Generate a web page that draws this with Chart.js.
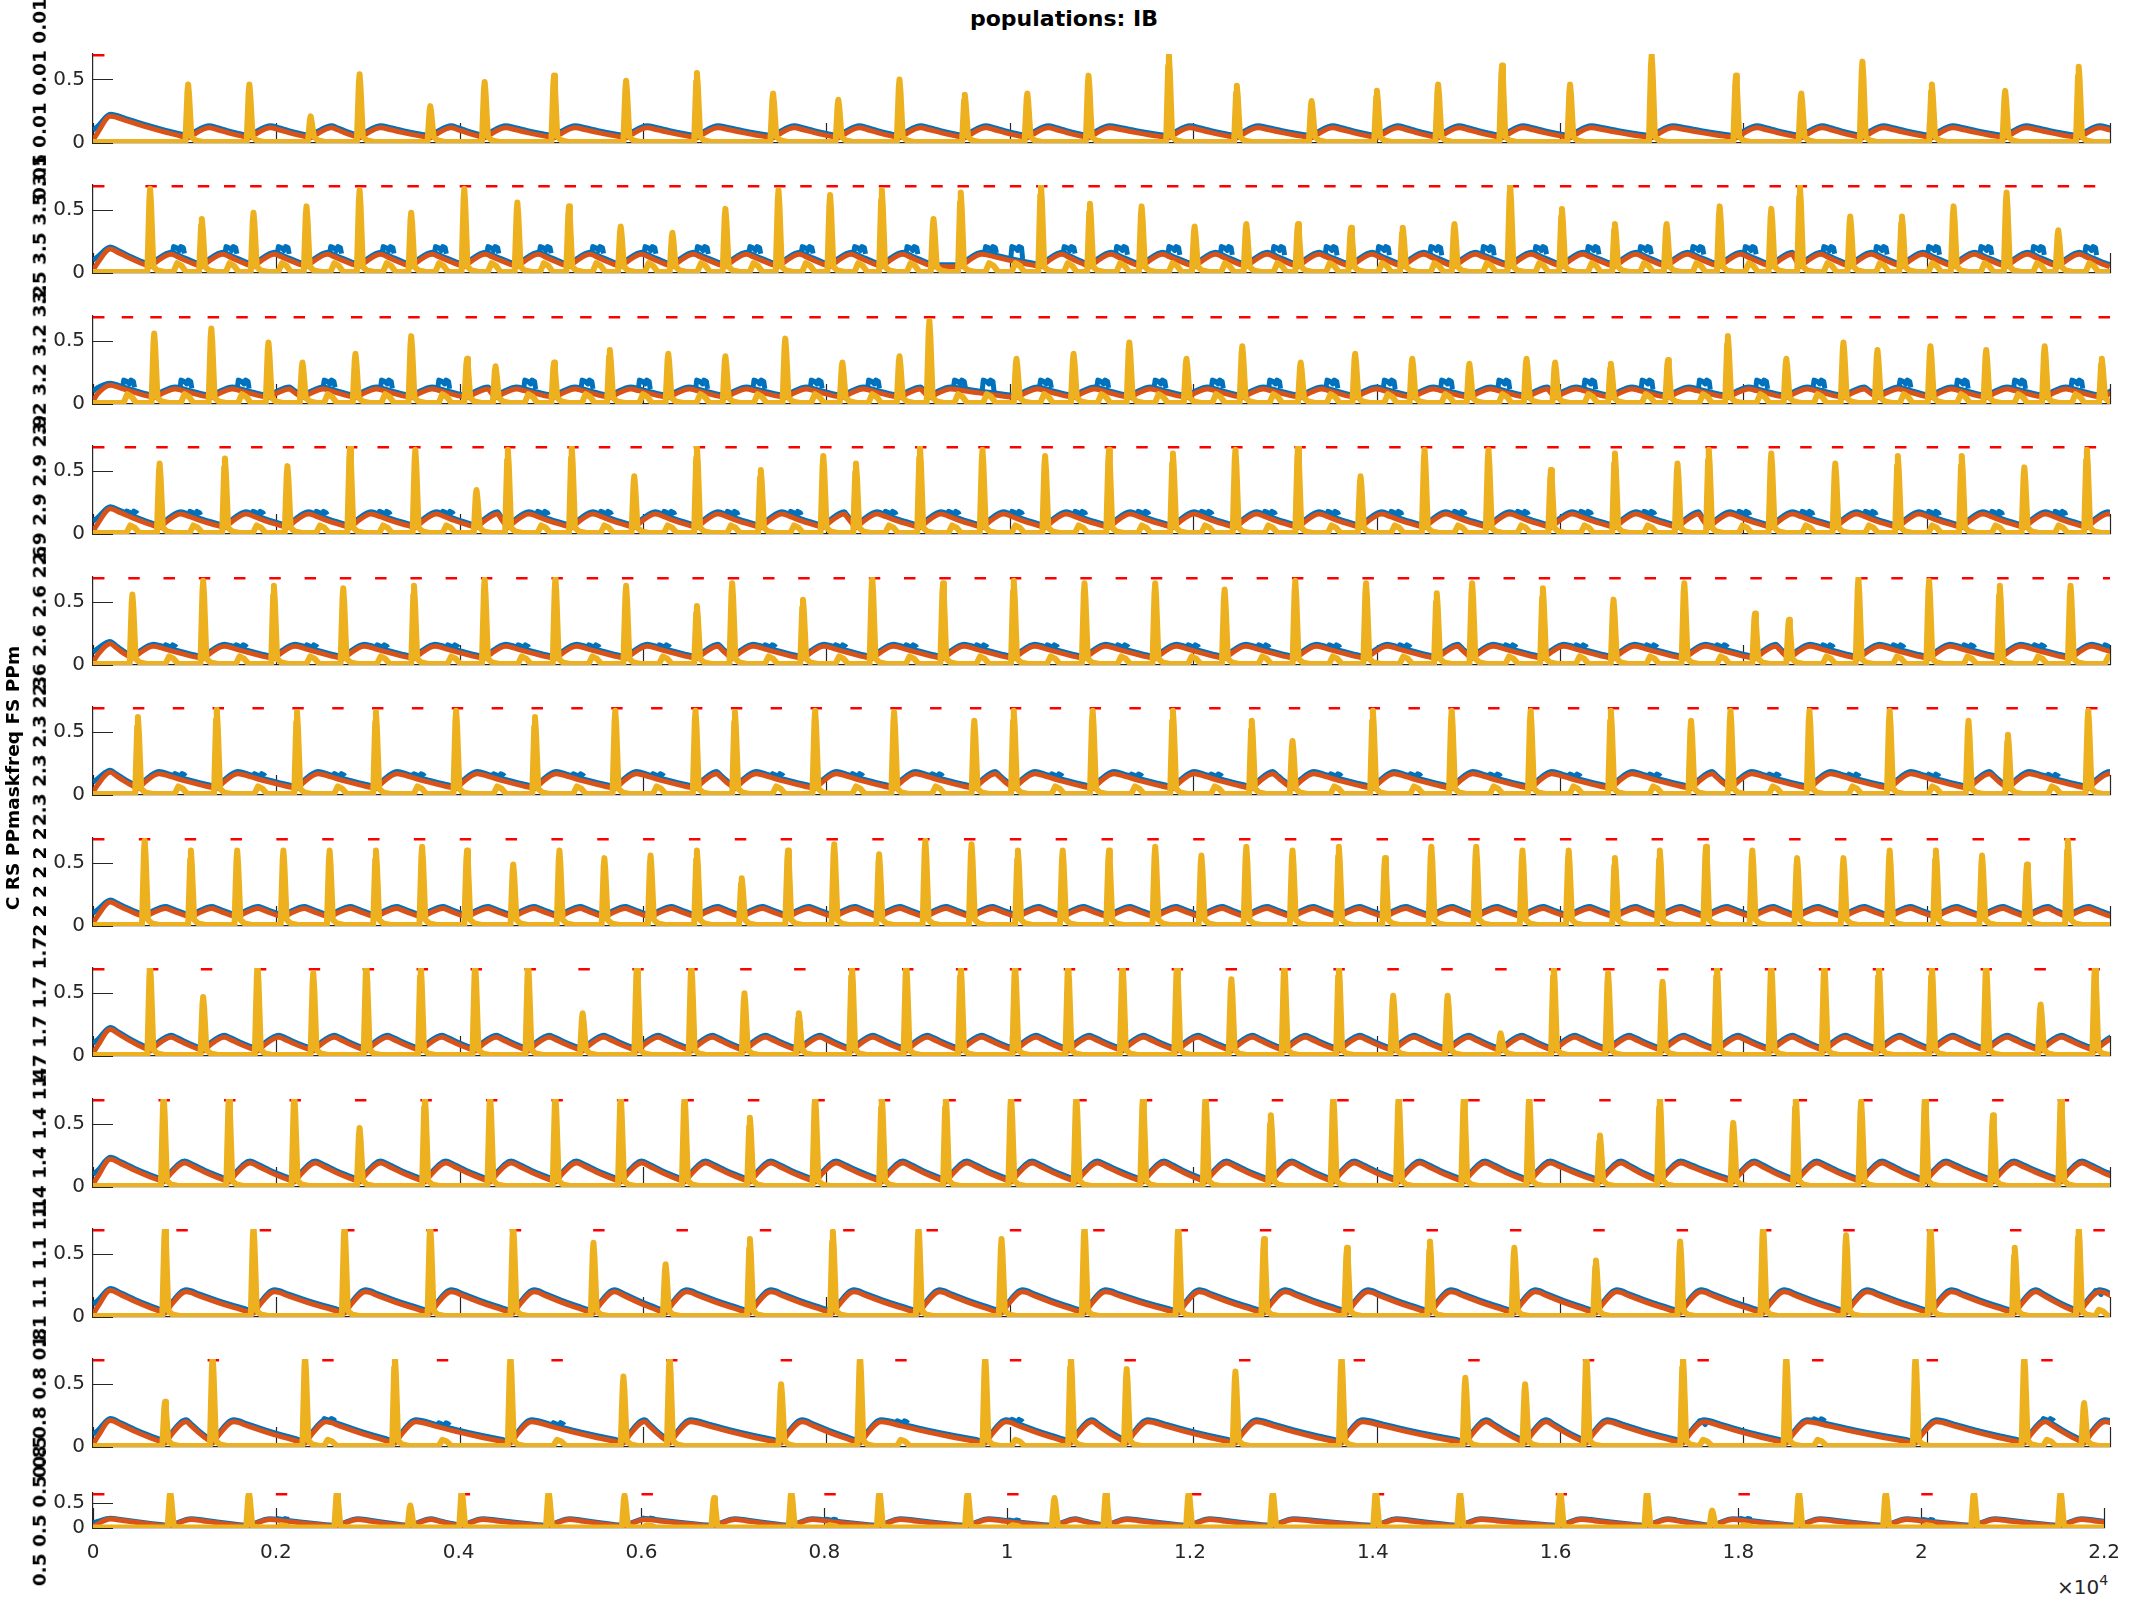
<!DOCTYPE html>
<html><head><meta charset="utf-8">
<script src="https://cdn.jsdelivr.net/npm/chart.js@4.4.0/dist/chart.umd.min.js"></script>
<style>
html,body{margin:0;padding:0;background:#fff;}
body{width:2133px;height:1600px;position:relative;overflow:hidden;font-family:"DejaVu Sans",sans-serif;}
canvas{position:absolute;left:0;}
.rl{position:absolute;font-weight:bold;font-size:18.5px;color:#000;white-space:nowrap;transform:translate(-50%,-50%) rotate(-90deg);line-height:1;}
#title{position:absolute;left:1064px;top:18px;transform:translate(-50%,-50%);font-weight:bold;font-size:22px;color:#000;white-space:nowrap;}
#xexp{position:absolute;left:2057px;top:1577px;font-size:20px;line-height:20px;color:#262626;white-space:nowrap;}
#xexp span{font-size:14px;position:relative;top:-9px;}
</style></head><body>
<div id="title">populations: IB</div>
<div id="xexp">×10<span>4</span></div>
<script>
// ---------------- data ----------------
const xTicks = [0,2000,4000,6000,8000,10000,12000,14000,16000,18000,20000,22000];
const xTickLabels = ['0','0.2','0.4','0.6','0.8','1','1.2','1.4','1.6','1.8','2','2.2'];
const yTicks = [0,0.5];
const yTickLabels = ['0','0.5'];
const rowLabels = ["0.01 0.01 0.01 0.01","3.5 3.5 3.5 3.5","3.2 3.2 3.2 3.2","2.9 2.9 2.9 2.9","2.6 2.6 2.6 2.6","2.3 2.3 2.3 2.3","2 2 2 2 2 2","1.7 1.7 1.7 1.7","1.4 1.4 1.4 1.4","1.1 1.1 1.1 1.1","0.8 0.8 0.8 0.8","0.5 0.5 0.5 0.5"];
const sideLabel = "C RS PPmaskfreq FS PPm";

// yellow spike times and peak values, per row
const r1T = [1038,1706,2374,2908,3679,4272,5029,5815,6587,7418,8130,8797,9509,10191,10859,11735,12476,13292,14004,14672,15369,16111,17001,17921,18633,19300,20057,20857,21659];
const r1H = [0.46,0.46,0.21,0.54,0.29,0.48,0.53,0.49,0.55,0.39,0.34,0.50,0.38,0.39,0.53,0.69,0.45,0.33,0.41,0.46,0.61,0.46,0.69,0.53,0.39,0.64,0.46,0.41,0.60];
const r2T = [623,1187,1751,2329,2908,3471,4050,4629,5192,5756,6320,6898,7477,8040,8604,9168,9465,10340,10874,11438,12016,12580,13144,13722,14286,14850,15458,16022,16600,17164,17743,18306,18618,19167,19731,20294,20872,21436];
const r2H = [0.67,0.43,0.48,0.53,0.66,0.48,0.67,0.56,0.53,0.37,0.32,0.51,0.66,0.62,0.66,0.43,0.64,0.70,0.55,0.53,0.37,0.39,0.39,0.36,0.36,0.39,0.69,0.51,0.39,0.39,0.53,0.51,0.69,0.45,0.45,0.53,0.64,0.34];
const r3T = [668,1291,1914,2285,2863,3471,4080,4391,5029,5637,6275,6898,7551,8174,8797,9123,10073,10696,11304,11927,12536,13173,13767,14390,15013,15636,15948,16556,17179,17832,18470,19093,19464,20042,20650,21288,21911];
const r3H = [0.56,0.60,0.49,0.33,0.40,0.54,0.36,0.30,0.33,0.43,0.40,0.38,0.52,0.33,0.38,0.66,0.36,0.40,0.49,0.36,0.46,0.33,0.40,0.36,0.32,0.36,0.33,0.32,0.35,0.54,0.36,0.49,0.43,0.46,0.43,0.46,0.36];
const r4T = [727,1439,2121,2804,3516,4183,4525,5222,5904,6587,7284,7966,8322,9020,9702,10385,11082,11779,12461,13144,13826,14524,15221,15903,16600,17283,17624,18306,19004,19686,20383,21066,21748];
const r4H = [0.56,0.60,0.54,0.69,0.67,0.35,0.67,0.69,0.46,0.69,0.51,0.62,0.56,0.69,0.67,0.62,0.67,0.64,0.67,0.69,0.46,0.67,0.67,0.51,0.64,0.56,0.67,0.64,0.56,0.62,0.62,0.53,0.67];
const r5T = [430,1202,1973,2730,3501,4272,5044,5815,6587,6972,7744,8500,9272,10043,10815,11586,12343,13114,13886,14657,15043,15814,16585,17357,18128,18499,19256,20027,20798,21570];
const r5H = [0.56,0.67,0.63,0.61,0.63,0.68,0.69,0.63,0.47,0.65,0.52,0.69,0.65,0.67,0.65,0.65,0.60,0.67,0.65,0.57,0.65,0.61,0.52,0.65,0.41,0.36,0.69,0.67,0.63,0.63];
const r6T = [490,1350,2225,3086,3961,4821,5697,6572,7002,7877,8738,9613,10043,10904,11779,12639,13084,13960,14820,15681,16556,17431,17861,18722,19597,20457,20887,21763];
const r6H = [0.62,0.68,0.66,0.66,0.67,0.62,0.67,0.67,0.66,0.67,0.66,0.59,0.67,0.67,0.67,0.59,0.43,0.67,0.67,0.67,0.67,0.59,0.67,0.67,0.67,0.59,0.48,0.67];
const r7T = [564,1068,1573,2077,2581,3086,3590,4080,4584,5088,5578,6082,6587,7076,7581,8085,8575,9079,9583,10088,10577,11082,11586,12090,12580,13084,13589,14093,14598,15087,15592,16096,16600,17090,17594,18099,18588,19093,19597,20101,20605,21095,21540];
const r7H = [0.68,0.6,0.6,0.6,0.6,0.6,0.63,0.6,0.49,0.6,0.54,0.56,0.6,0.38,0.6,0.65,0.57,0.68,0.65,0.6,0.6,0.6,0.63,0.56,0.63,0.6,0.63,0.54,0.63,0.63,0.6,0.6,0.54,0.6,0.63,0.6,0.54,0.54,0.6,0.6,0.56,0.49,0.68];
const r8T = [623,1202,1795,2403,2982,3575,4169,4747,5341,5934,6527,7106,7699,8278,8871,9465,10058,10637,11230,11824,12417,12995,13589,14182,14776,15354,15933,16526,17120,17713,18306,18885,19479,20057,20650,21244,21837];
const r8H = [0.72,0.47,0.72,0.66,0.72,0.72,0.72,0.72,0.34,0.72,0.72,0.5,0.34,0.72,0.72,0.72,0.72,0.72,0.72,0.72,0.61,0.72,0.72,0.48,0.48,0.18,0.72,0.66,0.59,0.72,0.72,0.72,0.72,0.72,0.72,0.41,0.72];
const r9T = [771,1484,2196,2908,3620,4332,5044,5756,6453,7165,7877,8604,9302,10014,10726,11453,12135,12847,13529,14242,14954,15666,16437,17090,17891,18573,19286,19983,20724,21466];
const r9H = [0.72,0.72,0.72,0.47,0.72,0.72,0.72,0.72,0.72,0.55,0.72,0.72,0.72,0.72,0.72,0.72,0.72,0.57,0.72,0.72,0.72,0.72,0.41,0.72,0.51,0.72,0.68,0.72,0.57,0.72];
const r10T = [786,1751,2744,3679,4584,5459,6246,7165,8070,9005,9910,10815,11838,12773,13678,14583,15503,16393,17312,18217,19122,20042,20961,21659];
const r10H = [0.72,0.72,0.72,0.72,0.72,0.59,0.42,0.62,0.68,0.72,0.62,0.72,0.72,0.62,0.55,0.6,0.55,0.45,0.6,0.72,0.65,0.72,0.55,0.72];
const r11T = [786,1305,2314,3293,4554,5786,6290,7506,8367,9732,10666,11275,12461,13619,14969,15621,16289,17342,18470,19879,21066,21718];
const r11H = [0.36,0.72,0.72,0.72,0.72,0.56,0.72,0.5,0.72,0.72,0.72,0.62,0.6,0.72,0.55,0.5,0.72,0.72,0.72,0.72,0.72,0.35];
const r12T = [846,1706,2670,3471,4035,4985,5815,6794,7640,8604,9569,10518,11082,11987,12906,14034,14954,16052,17001,17713,18662,19612,20576,21525];
const r12H = [0.72,0.72,0.72,0.45,0.72,0.72,0.65,0.6,0.72,0.72,0.72,0.6,0.72,0.72,0.72,0.72,0.72,0.72,0.72,0.35,0.72,0.72,0.72,0.72];

// red stimulus marks (onset times), per row
const r1D = [0];
const r2D = [0,571,857,1143,1429,1714,2000,2286,2571,2857,3143,3429,3714,4000,4286,4571,4857,5143,5429,5714,6000,6286,6571,6857,7143,7429,7714,8000,8286,8571,8857,9143,9429,9714,10000,10286,10571,10857,11143,11429,11714,12000,12286,12571,12857,13143,13429,13714,14000,14286,14571,14857,15143,15429,15714,16000,16286,16571,16857,17143,17429,17714,18000,18286,18571,18857,19143,19429,19714,20000,20286,20571,20857,21143,21429,21714,22000];
const r3D = [0,313,625,938,1250,1563,1875,2188,2500,2813,3125,3438,3750,4063,4375,4688,5000,5313,5625,5938,6250,6563,6875,7188,7500,7813,8125,8438,8750,9063,9375,9688,10000,10313,10625,10938,11250,11563,11875,12188,12500,12813,13125,13438,13750,14063,14375,14688,15000,15313,15625,15938,16250,16563,16875,17188,17500,17813,18125,18438,18750,19063,19375,19688,20000,20313,20625,20938,21250,21563,21875];
const r4D = [0,345,690,1034,1379,1724,2069,2414,2759,3103,3448,3793,4138,4483,4828,5172,5517,5862,6207,6552,6897,7241,7586,7931,8276,8621,8966,9310,9655,10000,10345,10690,11034,11379,11724,12069,12414,12759,13103,13448,13793,14138,14483,14828,15172,15517,15862,16207,16552,16897,17241,17586,17931,18276,18621,18966,19310,19655,20000,20345,20690,21034,21379,21724];
const r5D = [0,385,769,1154,1538,1923,2308,2692,3077,3462,3846,4231,4615,5000,5385,5769,6154,6538,6923,7308,7692,8077,8462,8846,9231,9615,10000,10385,10769,11154,11538,11923,12308,12692,13077,13462,13846,14231,14615,15000,15385,15769,16154,16538,16923,17308,17692,18077,18462,18846,19231,19615,20000,20385,20769,21154,21538,21923];
const r6D = [0,435,870,1304,1739,2174,2609,3043,3478,3913,4348,4783,5217,5652,6087,6522,6957,7391,7826,8261,8696,9130,9565,10000,10435,10870,11304,11739,12174,12609,13043,13478,13913,14348,14783,15217,15652,16087,16522,16957,17391,17826,18261,18696,19130,19565,20000,20435,20870,21304,21739];
const r7D = [0,500,1000,1500,2000,2500,3000,3500,4000,4500,5000,5500,6000,6500,7000,7500,8000,8500,9000,9500,10000,10500,11000,11500,12000,12500,13000,13500,14000,14500,15000,15500,16000,16500,17000,17500,18000,18500,19000,19500,20000,20500,21000,21500];
const r8D = [0,588,1176,1765,2353,2941,3529,4118,4706,5294,5882,6471,7059,7647,8235,8824,9412,10000,10588,11176,11765,12353,12941,13529,14118,14706,15294,15882,16471,17059,17647,18235,18824,19412,20000,20588,21176,21765];
const r9D = [0,714,1429,2143,2857,3571,4286,5000,5714,6429,7143,7857,8571,9286,10000,10714,11429,12143,12857,13571,14286,15000,15714,16429,17143,17857,18571,19286,20000,20714,21429];
const r10D = [0,909,1818,2727,3636,4545,5455,6364,7273,8182,9091,10000,10909,11818,12727,13636,14545,15455,16364,17273,18182,19091,20000,20909,21818];
const r11D = [0,1250,2500,3750,5000,6250,7500,8750,10000,11250,12500,13750,15000,16250,17500,18750,20000,21250];
const r12D = [0,2000,4000,6000,8000,10000,12000,14000,16000,18000,20000];

// envelope levels of the orange trace, per row
const firstPeak = [0.21,0.19,0.15,0.20,0.17,0.18,0.19,0.21,0.22,0.21,0.21,0.18];
const humpPeak  = [0.12,0.15,0.12,0.16,0.15,0.17,0.14,0.15,0.19,0.20,0.20,0.17];
const humpLow   = [0.04,0.05,0.05,0.05,0.05,0.05,0.07,0.04,0.04,0.03,0.03,0.03];
const blueBump  = [0,0.21,0.19,0.18,0.16,0.13,0.11,0.10,0.10,0.10,0.10,0.10];
const yelBump   = [0,0.07,0.07,0.06,0.06,0.06,0.05,0.05,0.05,0.05,0.05,0.05];

const spikeT = [r1T,r2T,r3T,r4T,r5T,r6T,r7T,r8T,r9T,r10T,r11T,r12T];
const spikeH = [r1H,r2H,r3H,r4H,r5H,r6H,r7H,r8H,r9H,r10H,r11H,r12H];
const stimD  = [r1D,r2D,r3D,r4D,r5D,r6D,r7D,r8D,r9D,r10D,r11D,r12D];

// ---------------- layout ----------------
const rowBase = [143,273,404,534,665,795,926,1056,1187,1317,1447,1528];
const rowHgt  = [89,88,88,88,88,88,88,88,88,88,88,35];
const PADT = 25;

const COL = {blue:'#0072BD', orange:'#D95319', yellow:'#EDB120', red:'#FF0000', axis:'#262626'};

function interp(pts, x){
  for (let k=1;k<pts.length;k++){
    if (pts[k].x>=x){const a=pts[k-1],b=pts[k];const f=(x-a.x)/((b.x-a.x)||1);return a.y+(b.y-a.y)*f;}
  }
  return pts[pts.length-1].y;
}

function buildRow(i){
  const T=spikeT[i], H=spikeH[i], D=stimD[i];
  const n=Math.min(T.length,H.length);
  const pk=humpPeak[i], lo=humpLow[i], fp=firstPeak[i];
  const b0=0.008;
  // orange envelope
  const orange=[{x:0,y:0.02},{x:50,y:0.08},{x:190,y:fp}];
  const decay=(s0,pY,end)=>{const R=end-s0;[[0.2,0.8],[0.45,0.52],[0.7,0.27],[0.9,0.09]].forEach(([fx,fy])=>orange.push({x:s0+fx*R,y:lo+(pY-lo)*fy}));};
  decay(190,fp,n?T[0]:22000);
  const avgGap = n>1 ? (T[n-1]-T[0])/(n-1) : 2000;
  for (let k=0;k<n;k++){
    const s=T[k], nxt = k+1<n ? T[k+1] : s+avgGap;
    orange.push({x:s,y:lo});
    if (nxt-s>300){
      orange.push({x:s+60,y:lo+(pk-lo)*0.35});
      orange.push({x:s+230,y:pk});
      decay(s+230,pk,nxt);
    }
  }
  orange.push({x:T[n-1]+avgGap,y:lo});
  // blue (noisy trace around the orange one)
  const blue=[{x:0,y:0.10},{x:50,y:0.13}].concat(orange.slice(2).map(p=>({x:p.x,y:p.y+0.016})));
  // events: spikes and sub-threshold bumps
  const events=[];
  for (let k=0;k<n;k++) events.push({t:T[k],h:H[k],s:true});
  const bumps=[];
  D.forEach(d=>{
    if (d<100) return;
    let hit=false; for (let k=0;k<n;k++){ if (Math.abs(T[k]-d-45)<200){hit=true;break;} }
    if (!hit){ events.push({t:d,s:false}); bumps.push(d); }
  });
  events.sort((a,b)=>a.t-b.t);
  const yellow=[{x:0,y:b0}];
  events.forEach(e=>{
    const s=e.t;
    if (e.s){
      yellow.push({x:s-30,y:b0},{x:s-8,y:e.h*0.88},{x:s,y:e.h},{x:s+10,y:e.h*0.82},{x:s+35,y:0.05},{x:s+80,y:b0+0.012},{x:s+160,y:b0});
    } else {
      yellow.push({x:s+20,y:b0},{x:s+60,y:b0+yelBump[i]},{x:s+110,y:b0+yelBump[i]*0.7},{x:s+160,y:b0});
    }
  });
  yellow.push({x:22000,y:b0});
  // blue bumps at stimulus times without a spike
  const blueB=[];
  bumps.forEach(d=>{
    const base=interp(orange,d+30)+0.016;
    const top=Math.max(base+0.02,blueBump[i]);
    blueB.push({x:d+10,y:base},{x:d+22,y:top},{x:d+60,y:top-0.012},{x:d+85,y:top-0.03},{x:d+100,y:top},{x:d+128,y:top-0.01},{x:d+140,y:base},{x:d+141,y:null});
  });
  // red stimulus dashes
  const red=[];
  D.forEach(d=>{red.push({x:d,y:0.7},{x:d+125,y:0.7},{x:d+126,y:null});});
  return {orange,blue,yellow,blueB,red};
}

const innerTicks={id:'innerTicks',beforeDatasetsDraw(chart){
  const {ctx,chartArea:a,scales:{x,y}}=chart;
  ctx.save();ctx.strokeStyle=COL.axis;ctx.lineWidth=1.2;ctx.beginPath();
  xTicks.forEach(v=>{const px=Math.round(x.getPixelForValue(v))+0.5;ctx.moveTo(px,a.bottom);ctx.lineTo(px,a.bottom-20);});
  yTicks.forEach(v=>{const py=Math.round(y.getPixelForValue(v))+0.5;ctx.moveTo(a.left,py);ctx.lineTo(a.left+20,py);});
  ctx.stroke();ctx.restore();
}};

for (let i=0;i<12;i++){
  const last = i===11;
  const padB = last?5:25, xh = last?45:0;
  const top = rowBase[i]-rowHgt[i]-PADT;
  const h = PADT+rowHgt[i]+xh+padB;
  const cv=document.createElement('canvas');
  cv.width=2133;cv.height=h;cv.style.width='2133px';cv.style.height=h+'px';cv.style.top=top+'px';
  document.body.appendChild(cv);
  const d=buildRow(i);
  const line=(data,color,w,extra)=>Object.assign({data,borderColor:color,borderWidth:w,pointRadius:0,fill:false,tension:0,spanGaps:false,borderJoinStyle:'round'},extra||{});
  new Chart(cv,{
    type:'line',
    data:{datasets:[
      line(d.yellow,COL.yellow,6,{order:0}),
      line(d.red,COL.red,5,{order:1,borderCapStyle:'butt'}),
      line(d.orange,COL.orange,5,{order:2,cubicInterpolationMode:'monotone'}),
      line(d.blue,COL.blue,5,{order:3,cubicInterpolationMode:'monotone'}),
      line(d.blueB,COL.blue,5,{order:4})
    ]},
    options:{
      responsive:false,animation:false,events:[],devicePixelRatio:1,
      layout:{padding:{left:0,right:23,top:PADT,bottom:padB}},
      plugins:{legend:{display:false},tooltip:{enabled:false},title:{display:false}},
      scales:{
        x:{type:'linear',min:0,max:22000,
          afterBuildTicks:s=>{s.ticks=xTicks.map(v=>({value:v}));},
          afterFit:s=>{s.height=xh;},
          ticks:{display:last,autoSkip:false,maxRotation:0,padding:13,color:COL.axis,font:{family:'DejaVu Sans',size:20},
            callback:v=>xTickLabels[xTicks.indexOf(v)]},
          grid:{display:true,drawOnChartArea:false,drawTicks:false},
          border:{display:true,color:COL.axis,width:1.2}},
        y:{min:0,max:0.7,
          afterBuildTicks:s=>{s.ticks=yTicks.map(v=>({value:v}));},
          afterFit:s=>{s.width=93;},
          ticks:{padding:8,color:COL.axis,font:{family:'DejaVu Sans',size:20},
            callback:v=>yTickLabels[yTicks.indexOf(v)]},
          grid:{display:true,drawOnChartArea:false,drawTicks:false},
          border:{display:true,color:COL.axis,width:1.2}}
      }
    },
    plugins:[innerTicks]
  });
  const lab=document.createElement('div');
  lab.className='rl';lab.textContent=rowLabels[i];
  lab.style.left='40px';lab.style.top=(rowBase[i]-rowHgt[i]/2)+'px';
  document.body.appendChild(lab);
}
const side=document.createElement('div');
side.className='rl';side.textContent=sideLabel;side.style.left='13px';side.style.top='778px';
document.body.appendChild(side);
</script>
</body></html>
